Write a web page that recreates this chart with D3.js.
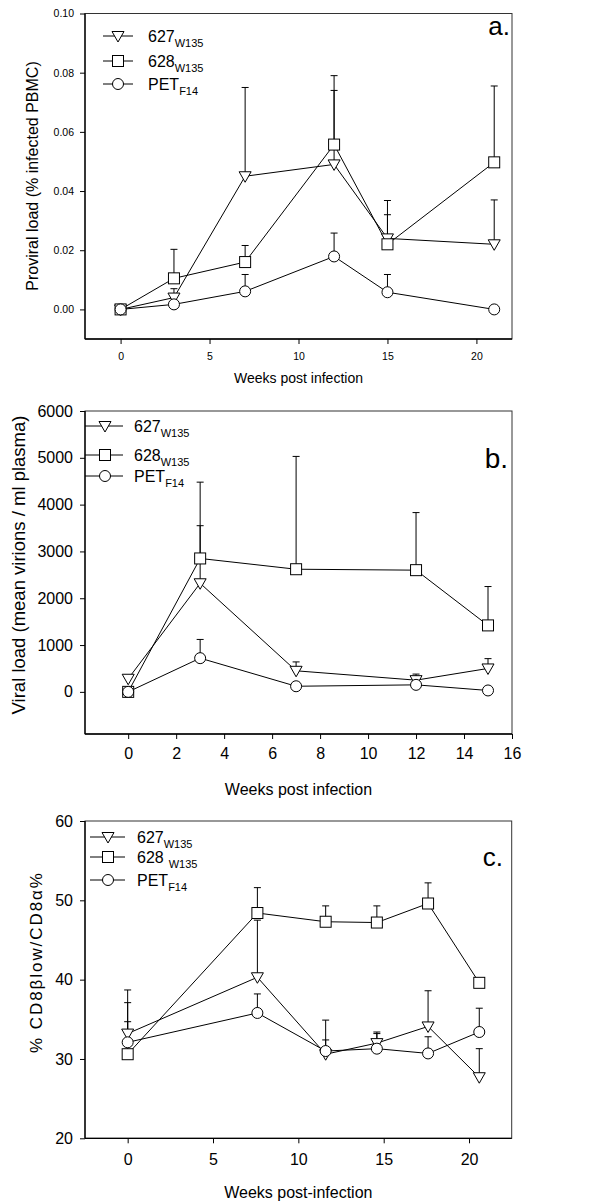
<!DOCTYPE html>
<html>
<head>
<meta charset="utf-8">
<script src="https://cdn.jsdelivr.net/npm/d3@7"></script>
<style>
body { margin: 0; background: #fff; }
svg { display: block; }
text { font-family: "Liberation Sans", Arial, sans-serif; fill: #000; }
</style>
</head>
<body>
<svg id="chart" width="615" height="1204"></svg>
<script>
var names = ["627", "628", "PET"];
var subs = ["W135", "W135", "F14"];
var shapes = ["triangle", "square", "circle"];

// panel a: proviral load
var weeksA = [0, 3, 7, 12, 15, 21];
var a627 = [0, 0.004, 0.045, 0.049, 0.024, 0.022];
var a627Err = [null, 0.007, 0.075, 0.074, 0.032, 0.037];
var a628 = [0, 0.0105, 0.016, 0.0557, 0.022, 0.0497];
var a628Err = [null, 0.0203, 0.0216, 0.079, 0.0368, 0.0755];
var aPET = [0, 0.0017, 0.0061, 0.0179, 0.0058, 0];
var aPETErr = [null, null, 0.0118, 0.0258, 0.0118, null];
var xTicksA = [0, 5, 10, 15, 20];
var yTicksA = [0, 0.02, 0.04, 0.06, 0.08, 0.10];

// panel b: viral load
var weeksB = [0, 3, 7, 12, 15];
var b627 = [280, 2320, 450, 250, 500];
var b627Err = [350, 3550, 640, 380, 710];
var b628 = [0, 2850, 2620, 2600, 1420];
var b628Err = [null, 4480, 5030, 3830, 2250];
var bPET = [0, 720, 120, 150, 30];
var bPETErr = [null, 1120, null, 200, null];
var xTicksB = [0, 2, 4, 6, 8, 10, 12, 14, 16];
var yTicksB = [0, 1000, 2000, 3000, 4000, 5000, 6000];

// panel c: CD8 beta low
var weeksC = [0, 7.6, 11.6, 14.6, 17.6, 20.6];
var c627 = [33.2, 40.3, 30.6, 32.0, 34.1, 27.7];
var c627Err = [37.1, 47.5, 34.9, 33.4, 38.6, 31.3];
var c628 = [30.6, 48.4, 47.3, 47.2, 49.6, 39.6];
var c628Err = [38.7, 51.6, 49.3, 49.3, 52.2, null];
var cPET = [32.1, 35.8, 31.0, 31.3, 30.7, 33.4];
var cPETErr = [34.7, 38.2, 32.4, 33.2, 32.8, 36.4];
var xTicksC = [0, 5, 10, 15, 20];
var yTicksC = [20, 30, 40, 50, 60];

var svg = d3.select("#chart");

function marker(g, shape, cx, cy) {
    if (shape == "circle") {
        g.append("circle").attr("cx", cx).attr("cy", cy).attr("r", 5.5)
            .attr("fill", "#fff").attr("stroke", "#000").attr("stroke-width", 1);
    }
    else if (shape == "square") {
        g.append("rect").attr("x", cx - 5.5).attr("y", cy - 5.5).attr("width", 11).attr("height", 11)
            .attr("fill", "#fff").attr("stroke", "#000").attr("stroke-width", 1);
    }
    else {
        g.append("polygon")
            .attr("points", (cx - 6) + "," + (cy - 4.5) + " " + (cx + 6) + "," + (cy - 4.5) + " " + cx + "," + (cy + 6))
            .attr("fill", "#fff").attr("stroke", "#000").attr("stroke-width", 1);
    }
}

function drawPanel(p) {
    var g = svg.append("g");
    var x = d3.scaleLinear().domain(p.xDomain).range([p.left, p.right]);
    var y = d3.scaleLinear().domain(p.yDomain).range([p.bottom, p.top]);

    // frame
    g.append("rect").attr("x", p.left).attr("y", p.top)
        .attr("width", p.right - p.left).attr("height", p.bottom - p.top)
        .attr("fill", "none").attr("stroke", "#333").attr("stroke-width", 1);
    g.append("line").attr("x1", p.left).attr("x2", p.left).attr("y1", p.top).attr("y2", p.bottom)
        .attr("stroke", "#000").attr("stroke-width", 1.3);
    g.append("line").attr("x1", p.left).attr("x2", p.right).attr("y1", p.bottom).attr("y2", p.bottom)
        .attr("stroke", "#000").attr("stroke-width", 1.3);

    var xa = g.append("g").attr("transform", "translate(0," + p.bottom + ")")
        .call(d3.axisBottom(x).tickValues(p.xTicks).tickSize(5).tickSizeOuter(0).tickPadding(p.xPad));
    xa.select(".domain").remove();
    xa.selectAll("text").attr("font-size", p.tickFont).attr("font-family", null);

    var ya = g.append("g").attr("transform", "translate(" + p.left + ",0)")
        .call(d3.axisLeft(y).tickValues(p.yTicks).tickSize(5).tickSizeOuter(0).tickPadding(p.yPad)
            .tickFormat(p.yFormat));
    ya.select(".domain").remove();
    ya.selectAll("text").attr("font-size", p.tickFont).attr("font-family", null);

    // titles
    g.append("text").attr("x", (p.left + p.right) / 2).attr("y", p.xTitleY)
        .attr("text-anchor", "middle").attr("font-size", p.titleFont).text(p.xTitle);
    var yt = g.append("text").attr("transform", "translate(" + p.yTitleX + "," + p.yTitleY + ") rotate(-90)")
        .attr("text-anchor", "middle").attr("font-size", p.yTitleFont).text(p.yTitle);
    if (p.yTitleLen) yt.attr("textLength", p.yTitleLen).attr("lengthAdjust", "spacing");
    g.append("text").attr("x", p.tagX).attr("y", p.tagY).attr("text-anchor", "end")
        .attr("font-size", p.tagFont).text(p.tag);

    // series
    for (var s = 0; s < 3; s++) {
        var vals = p.series[s];
        var errs = p.errors[s];
        var pts = [];
        for (var i = 0; i < p.weeks.length; i++) pts.push([x(p.weeks[i]), y(vals[i])]);
        g.append("path").attr("d", d3.line()(pts)).attr("fill", "none")
            .attr("stroke", "#000").attr("stroke-width", 1);
        for (var i = 0; i < p.weeks.length; i++) {
            if (errs[i] == null) continue;
            var ex = x(p.weeks[i]);
            g.append("line").attr("x1", ex).attr("x2", ex).attr("y1", y(vals[i])).attr("y2", y(errs[i]))
                .attr("stroke", "#000").attr("stroke-width", 1);
            g.append("line").attr("x1", ex - 3.5).attr("x2", ex + 3.5).attr("y1", y(errs[i])).attr("y2", y(errs[i]))
                .attr("stroke", "#000").attr("stroke-width", 1);
        }
    }
    for (var s = 0; s < 3; s++) {
        for (var i = 0; i < p.weeks.length; i++) {
            marker(g, shapes[s], x(p.weeks[i]), y(p.series[s][i]));
        }
    }

    // legend
    for (var s = 0; s < 3; s++) {
        var ly = p.legY[s];
        g.append("line").attr("x1", p.legX1).attr("x2", p.legX2).attr("y1", ly).attr("y2", ly)
            .attr("stroke", "#000").attr("stroke-width", 1);
        marker(g, shapes[s], p.legM, ly);
        var t = g.append("text").attr("x", p.legT).attr("y", ly + 6).attr("font-size", 16);
        t.append("tspan").text(names[s]);
        t.append("tspan").attr("font-size", 11).attr("dy", 5)
            .attr("dx", (p.subGap && s == 1) ? 5 : 0).text(subs[s]);
    }
}

drawPanel({
    left: 85, right: 512, top: 13.5, bottom: 339,
    xDomain: [-2, 22], yDomain: [-0.01, 0.10],
    xTicks: xTicksA, yTicks: yTicksA, yFormat: d3.format(".2f"),
    tickFont: 10.5, xPad: 9, yPad: 6,
    xTitle: "Weeks post infection", xTitleY: 383, titleFont: 14,
    yTitle: "Proviral load (% infected PBMC)", yTitleX: 38, yTitleY: 176, yTitleFont: 16,
    tag: "a.", tagX: 510, tagY: 35, tagFont: 26,
    weeks: weeksA, series: [a627, a628, aPET], errors: [a627Err, a628Err, aPETErr],
    legX1: 103, legX2: 133, legM: 118, legT: 148, legY: [36, 61, 84], subGap: false
});

drawPanel({
    left: 85, right: 512, top: 411, bottom: 734,
    xDomain: [-1.8, 16], yDomain: [-900, 6000],
    xTicks: xTicksB, yTicks: yTicksB, yFormat: d3.format("d"),
    tickFont: 16, xPad: 9, yPad: 7,
    xTitle: "Weeks post infection", xTitleY: 795, titleFont: 16,
    yTitle: "Viral load (mean virions / ml plasma)", yTitleX: 25, yTitleY: 565, yTitleFont: 18.5,
    tag: "b.", tagX: 508, tagY: 468, tagFont: 28,
    weeks: weeksB, series: [b627, b628, bPET], errors: [b627Err, b628Err, bPETErr],
    legX1: 85, legX2: 123, legM: 105, legT: 134, legY: [426, 455, 476], subGap: false
});

drawPanel({
    left: 85, right: 511.7, top: 821, bottom: 1138.3,
    xDomain: [-2.5, 22.5], yDomain: [20, 60],
    xTicks: xTicksC, yTicks: yTicksC, yFormat: d3.format("d"),
    tickFont: 16, xPad: 10, yPad: 7,
    xTitle: "Weeks post-infection", xTitleY: 1198, titleFont: 16,
    yTitle: "% CD8\u03b2low/CD8\u03b1%", yTitleX: 42, yTitleY: 963, yTitleFont: 17, yTitleLen: 180,
    tag: "c.", tagX: 503, tagY: 866, tagFont: 26,
    weeks: weeksC, series: [c627, c628, cPET], errors: [c627Err, c628Err, cPETErr],
    legX1: 90, legX2: 125, legM: 108, legT: 137, legY: [837, 857, 880], subGap: true
});
</script>
</body>
</html>
